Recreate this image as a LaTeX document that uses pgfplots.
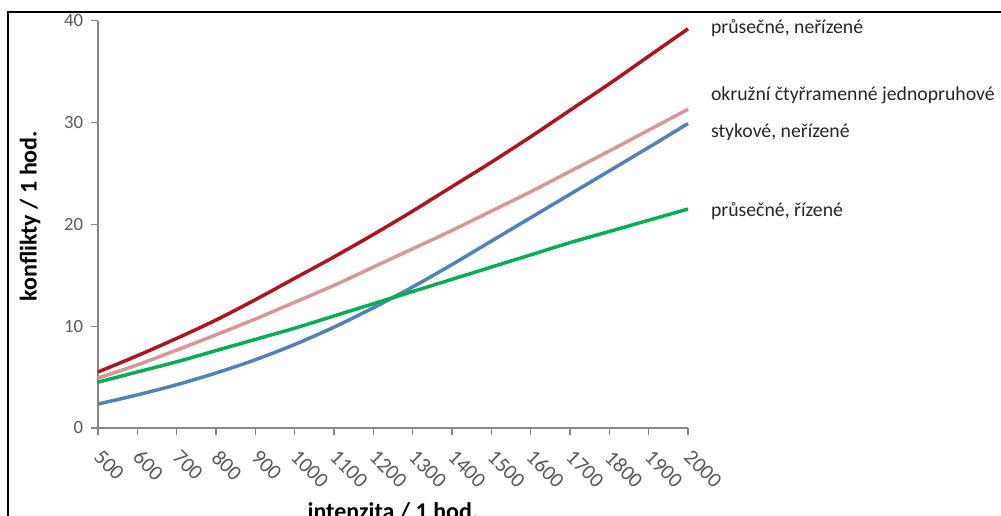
\documentclass[border=0pt]{standalone}
\usepackage{pgfplots}
\pgfplotsset{compat=1.18}
\usepackage{fontspec}
\setmainfont{Carlito}
\definecolor{cred}{HTML}{B3121B}
\definecolor{cpink}{HTML}{D99694}
\definecolor{cblue}{HTML}{4F81BD}
\definecolor{cgreen}{HTML}{00B050}
\definecolor{caxis}{HTML}{868686}
\definecolor{ctick}{HTML}{595959}
\definecolor{ctext}{HTML}{262626}
\begin{document}
\begin{tikzpicture}[x=0.75pt,y=0.75pt]
\useasboundingbox (0,0) rectangle (1001,-516);
\draw[black, line width=1.6pt] (8,-520) -- (8,-12) -- (1010,-12);
\begin{axis}[
  at={(73.5pt,-321pt)}, anchor=south west,
  scale only axis, width=442.5pt, height=305.5pt,
  xmin=500, xmax=2000, ymin=0, ymax=40,
  xtick={500,600,...,2000}, ytick={0,10,20,30,40},
  axis x line*=bottom, axis y line*=left,
  axis line style={caxis, line width=0.8pt},
  tick style={caxis, line width=0.8pt},
  tick align=outside, major tick length=5pt,
  x axis line style={-}, y axis line style={-},
  /pgf/number format/assume math mode=true,
  /pgf/number format/1000 sep={},
  ticklabel style={font=\fontsize{14}{16}\selectfont, text=ctick},
  xticklabel style={font=\fontsize{16}{18}\selectfont, rotate=-45, anchor=north west, inner sep=0.5pt, xshift=5pt},
  xticklabel shift=6pt,
  yticklabel style={inner sep=2pt, xshift=-4pt},
  xlabel={intenzita / 1 hod.},
  ylabel={konflikty / 1 hod.},
  label style={font=\bfseries\fontsize{18}{21}\selectfont, text=black},
  xlabel style={at={(axis description cs:0.5,0)}, anchor=north, inner sep=0pt, yshift=-56pt},
  ylabel style={at={(axis description cs:-0.115,0.52)}, anchor=center, inner sep=0pt},
  clip=false,
  every axis plot/.append style={line width=2.6pt, smooth, no markers},
]
\addplot[cred] table {
x y
500 5.5
600 7.1
700 8.8
800 10.6
900 12.6
1000 14.7
1100 16.8
1200 19.0
1300 21.3
1400 23.7
1500 26.1
1600 28.6
1700 31.2
1800 33.8
1900 36.5
2000 39.2
};
\addplot[cpink] table {
x y
500 4.9
600 6.2
700 7.65
800 9.15
900 10.7
1000 12.35
1100 14.0
1200 15.8
1300 17.6
1400 19.4
1500 21.3
1600 23.2
1700 25.2
1800 27.2
1900 29.25
2000 31.3
};
\addplot[cblue] table {
x y
500 2.35
600 3.25
700 4.25
800 5.4
900 6.7
1000 8.2
1100 9.9
1200 11.8
1300 13.85
1400 16.05
1500 18.35
1600 20.65
1700 22.95
1800 25.25
1900 27.55
2000 29.9
};
\addplot[cgreen] table {
x y
500 4.5
600 5.5
700 6.5
800 7.6
900 8.7
1000 9.8
1100 11.0
1200 12.2
1300 13.4
1400 14.6
1500 15.8
1600 17.0
1700 18.2
1800 19.3
1900 20.4
2000 21.5
};
\begin{scope}[every node/.style={anchor=west, inner sep=0pt, text=ctext, font=\fontsize{14.8}{16}\selectfont}]
\node at (axis cs:2058,39.3) {průsečné, neřízené};
\node at (axis cs:2058,32.7) {okružní čtyřramenné jednopruhové};
\node at (axis cs:2058,29.0) {stykové, neřízené};
\node at (axis cs:2058,21.3) {průsečné, řízené};
\end{scope}
\end{axis}
\end{tikzpicture}
\end{document}
